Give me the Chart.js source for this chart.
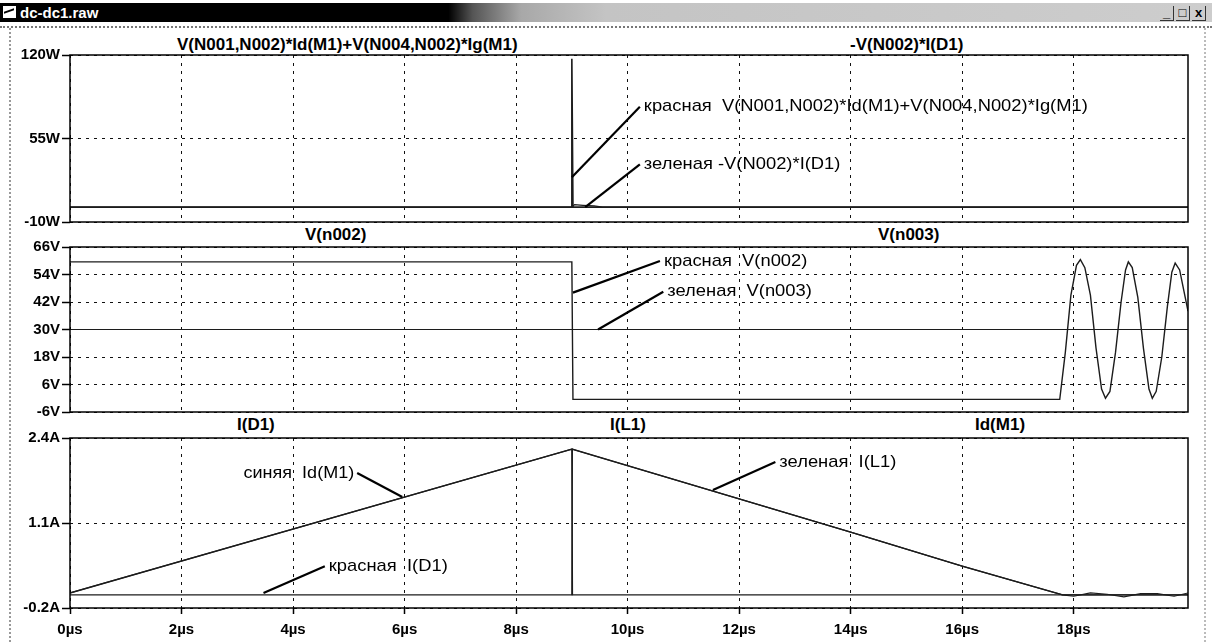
<!DOCTYPE html>
<html>
<head>
<meta charset="utf-8">
<title>dc-dc1.raw</title>
<script src="https://cdn.jsdelivr.net/npm/chart.js@4.4.0/dist/chart.umd.min.js"></script>
<style>
	body { margin: 0; background: #fff; }
	#win { position: relative; width: 1212px; height: 642px; overflow: hidden; background: #fff;
		font-family: "Liberation Sans", Arial, sans-serif; }
	#bar { position: absolute; left: 0; top: 3px; width: 1212px; height: 19px;
		background: linear-gradient(to right, #000 0%, #000 37%, #555 39%, #a8a8a8 43%, #c4c4c4 50%, #cdcdcd 100%); }
	#bar .name { position: absolute; left: 20px; top: 0; line-height: 19px; color: #fff; font-weight: bold; font-size: 15px; }
	#bar .ico { position: absolute; left: 3px; top: 3px; width: 13px; height: 12px; background: #fff; }
	#bar .ico:after { content: ""; position: absolute; left: 1px; top: 4px; width: 10px; height: 4px;
		border-top: 2px solid #000; transform: skewY(-20deg); }
	#btns { position: absolute; right: 6px; top: 2px; font: bold 13px "Liberation Sans"; color: #000; }
	#btns span { display: inline-block; width: 13px; height: 14px; line-height: 13px; text-align: center;
		margin-left: 2px; border-right: 1px solid #333; border-bottom: 1px solid #333; }
	#sep { position: absolute; left: 0; top: 26px; width: 1212px; height: 0; border-top: 2px dotted #777; }
	#lb { position: absolute; left: 9px; top: 28px; width: 0; height: 614px; border-left: 2px dotted #999; }
	#rb { position: absolute; left: 1204px; top: 28px; width: 0; height: 614px; border-left: 2px dotted #bbb; }
	canvas { position: absolute; left: 0; }
	.ttl { position: absolute; font: bold 17px "Liberation Sans", Arial, sans-serif; color: #000;
		white-space: nowrap; line-height: 18px; }
</style>
</head>
<body>
<div id="win">
	<div id="bar"><div class="ico"></div><div class="name">dc-dc1.raw</div>
		<div id="btns"><span>_</span><span>□</span><span>x</span></div></div>
	<div id="sep"></div>
	<div id="lb"></div>
	<div id="rb"></div>

	<!-- titres des panneaux -->
	<div class="ttl" style="left:177px; top:36px;">V(N001,N002)*Id(M1)+V(N004,N002)*Ig(M1)</div>
	<div class="ttl" style="left:850px; top:36px;">-V(N002)*I(D1)</div>
	<div class="ttl" style="left:305px; top:226px;">V(n002)</div>
	<div class="ttl" style="left:878px; top:226px;">V(n003)</div>
	<div class="ttl" style="left:237px; top:416px;">I(D1)</div>
	<div class="ttl" style="left:610px; top:416px;">I(L1)</div>
	<div class="ttl" style="left:975px; top:416px;">Id(M1)</div>

	<canvas id="c1" width="1212" height="203" style="top:30px"></canvas>
	<canvas id="c2" width="1212" height="190" style="top:233px"></canvas>
	<canvas id="c3" width="1212" height="219" style="top:423px"></canvas>
</div>

<script>
	// ---------------- donnees ----------------

	// axe du temps (µs)
	var xMin = 0, xMax = 20.05;
	var xTicks = [0, 2, 4, 6, 8, 10, 12, 14, 16, 18];
	var xLabels = ["0µs", "2µs", "4µs", "6µs", "8µs", "10µs", "12µs", "14µs", "16µs", "18µs"];

	// panneau 1 : puissances (W)
	var pTicks = [-10, 55, 120];
	var pLabels = ["-10W", "55W", "120W"];
	var tPm = [0, 9.0, 9.0, 9.02, 20.05];
	var pM1 = [1.6, 1.6, 117, 1.6, 1.6];               // V(N001,N002)*Id(M1)+V(N004,N002)*Ig(M1)
	var tPd = [0, 9.0, 9.05, 9.2, 9.4, 9.55, 20.05];
	var pD1 = [1.6, 1.6, 3.5, 3.0, 2.5, 1.6, 1.6];     // -V(N002)*I(D1)

	// panneau 2 : tensions (V)
	var vTicks = [-6, 6, 18, 30, 42, 54, 66];
	var vLabels = ["-6V", "6V", "18V", "30V", "42V", "54V", "66V"];
	var tN002 = [0, 9.0, 9.02, 17.75, 17.85, 17.95, 18.05, 18.12, 18.2, 18.3, 18.4, 18.5, 18.57,
		18.65, 18.75, 18.85, 18.93, 18.98, 19.05, 19.15, 19.25, 19.35, 19.41, 19.48, 19.58,
		19.68, 19.76, 19.82, 19.9, 20.0, 20.05];
	var vN002 = [59.5, 59.5, -0.5, -0.5, 20, 45, 58, 60.5, 57, 45, 22, 4, 0,
		3, 20, 42, 56, 59.5, 57, 44, 22, 4, 0, 3, 18,
		40, 55, 59, 56, 44, 38];
	var tN003 = [0, 20.05];
	var vN003 = [30, 30];

	// panneau 3 : courants (A)
	var iTicks = [-0.2, 1.1, 2.4];
	var iLabels = ["-0.2A", "1.1A", "2.4A"];
	var tIL = [0, 9.0, 12, 14, 16, 17.8, 18.0, 18.3, 18.6, 18.9, 19.2, 19.5, 19.8, 20.05];
	var iL1 = [0.03, 2.23, 1.47, 0.96, 0.44, 0.0, -0.02, 0.03, 0.01, -0.03, 0.02, 0.02, -0.02, 0.03];
	var tIM = [0, 9.0, 9.01, 20.05];
	var iM1 = [0.03, 2.23, 0, 0];
	var tID = [0, 9.0, 9.01, 12, 14, 16, 17.8, 20.05];
	var iD1 = [0, 0, 2.23, 1.47, 0.96, 0.44, 0, 0];

	// ---------------- fonctions ----------------

	Chart.defaults.font.family = '"Liberation Sans", Arial, sans-serif';
	Chart.defaults.color = '#000';

	function pts(t, v) {
		var out = [];
		for (var i = 0; i < t.length; i++) out.push({ x: t[i], y: v[i] });
		return out;
	}

	// cadre noir autour de la zone de trace
	var cadre = {
		id: 'cadre',
		afterDraw: function (c) {
			var a = c.chartArea, ctx = c.ctx;
			ctx.save();
			ctx.strokeStyle = '#000';
			ctx.lineWidth = 1.5;
			ctx.strokeRect(a.left, a.top, a.right - a.left, a.bottom - a.top);
			ctx.restore();
		}
	};

	// fleches + textes des annotations (en coordonnees de donnees)
	function notes(list) {
		return {
			id: 'notes',
			afterDraw: function (c) {
				var ctx = c.ctx, sx = c.scales.x, sy = c.scales.y;
				ctx.save();
				list.forEach(function (n) {
					var x0 = sx.getPixelForValue(n.x0), y0 = sy.getPixelForValue(n.y0);
					var x1 = sx.getPixelForValue(n.x1), y1 = sy.getPixelForValue(n.y1);
					ctx.strokeStyle = '#000';
					ctx.lineWidth = 2.2;
					ctx.beginPath();
					ctx.moveTo(x0, y0);
					ctx.lineTo(x1, y1);
					ctx.stroke();
					ctx.fillStyle = '#000';
					ctx.font = '17px "Liberation Sans", Arial, sans-serif';
					ctx.textBaseline = 'middle';
					ctx.save();
					if (n.gauche) {
						ctx.translate(x1 - 3, y1);
						ctx.scale(1.06, 1);
						ctx.textAlign = 'right';
					} else {
						ctx.translate(x1 + 4, y1);
						ctx.scale(1.08, 1);
						ctx.textAlign = 'left';
					}
					ctx.fillText(n.texte, 0, 0);
					ctx.restore();
				});
				ctx.restore();
			}
		};
	}

	function panneau(id, cfg) {
		return new Chart(document.getElementById(id), {
			type: 'line',
			data: {
				datasets: cfg.series.map(function (s) {
					return {
						data: pts(s[0], s[1]),
						borderColor: '#1c1c1c',
						borderWidth: s[2] || 1.2,
						pointRadius: 0,
						tension: 0,
						fill: false
					};
				})
			},
			options: {
				responsive: false,
				animation: false,
				events: [],
				layout: { padding: { top: cfg.haut, right: 24, bottom: cfg.bas, left: 0 } },
				plugins: { legend: { display: false }, tooltip: { enabled: false } },
				scales: {
					x: {
						type: 'linear', min: xMin, max: xMax,
						afterBuildTicks: function (s) { s.ticks = xTicks.map(function (v) { return { value: v }; }); },
						afterFit: function (s) { s.height = cfg.hx; },
						ticks: {
							display: cfg.montrerX, autoSkip: false, maxRotation: 0, padding: 7,
							font: { size: 15, weight: 'bold' }, color: '#000',
							callback: function (v, i) { return xLabels[i]; }
						},
						grid: { color: '#111', lineWidth: 1, drawTicks: cfg.montrerX, tickLength: 6, tickColor: '#000', tickWidth: 1.5 },
						border: { display: false, dash: [3, 5] }
					},
					y: {
						type: 'linear', min: cfg.ticks[0], max: cfg.ticks[cfg.ticks.length - 1],
						afterBuildTicks: function (s) { s.ticks = cfg.ticks.map(function (v) { return { value: v }; }); },
						afterFit: function (s) { s.width = 70; },
						ticks: {
							padding: 2, font: { size: 15, weight: 'bold' }, color: '#000',
							callback: function (v, i) { return cfg.labels[i]; }
						},
						grid: { color: '#111', lineWidth: 1, tickLength: 8, tickColor: '#000', tickWidth: 1.5 },
						border: { display: false, dash: [3, 5] }
					}
				}
			},
			plugins: [cadre, notes(cfg.notes)]
		});
	}

	// ---------------- corps du programme ----------------

	panneau('c1', {
		haut: 25, bas: 10, hx: 0, montrerX: false,
		ticks: pTicks, labels: pLabels,
		series: [[tPd, pD1], [tPm, pM1, 1.6]],
		notes: [
			{ x0: 9.0, y0: 24.8, x1: 10.22, y1: 79.8, texte: "красная  V(N001,N002)*Id(M1)+V(N004,N002)*Ig(M1)" },
			{ x0: 9.24, y0: 1.6, x1: 10.22, y1: 34.9, texte: "зеленая -V(N002)*I(D1)" }
		]
	});

	panneau('c2', {
		haut: 14, bas: 10, hx: 0, montrerX: false,
		ticks: vTicks, labels: vLabels,
		series: [[tN003, vN003], [tN002, vN002, 1.4]],
		notes: [
			{ x0: 9.02, y0: 46.1, x1: 10.58, y1: 59.9, texte: "красная  V(n002)" },
			{ x0: 9.47, y0: 30, x1: 10.64, y1: 46.5, texte: "зеленая  V(n003)" }
		]
	});

	panneau('c3', {
		haut: 15, bas: 0, hx: 34, montrerX: true,
		ticks: iTicks, labels: iLabels,
		series: [[tID, iD1], [tIL, iL1], [tIM, iM1, 1.4]],
		notes: [
			{ x0: 5.96, y0: 1.498, x1: 5.15, y1: 1.865, texte: "синяя  Id(M1)", gauche: true },
			{ x0: 3.47, y0: 0.03, x1: 4.57, y1: 0.44, texte: "красная  I(D1)" },
			{ x0: 11.53, y0: 1.605, x1: 12.65, y1: 2.033, texte: "зеленая  I(L1)" }
		]
	});
</script>
</body>
</html>
